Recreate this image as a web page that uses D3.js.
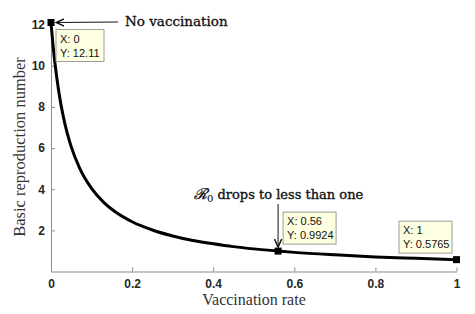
<!DOCTYPE html>
<html>
<head>
<meta charset="utf-8">
<script src="https://cdn.jsdelivr.net/npm/d3@7"></script>
<style>
  body { margin: 0; background: #fff; }
  svg { display: block; }
</style>
</head>
<body>
<div class="chart"></div>
<script>
// curve
const rate = [0, 0.005, 0.01, 0.02, 0.03, 0.04, 0.05, 0.07, 0.1, 0.13, 0.16, 0.2, 0.25, 0.3, 0.35, 0.4, 0.45, 0.5, 0.56, 0.6, 0.7, 0.8, 0.9, 1];
const r0 = [12.11, 11.0, 10.09, 8.65, 7.57, 6.73, 6.06, 5.05, 4.04, 3.36, 2.88, 2.42, 2.02, 1.73, 1.51, 1.35, 1.21, 1.10, 0.9924, 0.93, 0.81, 0.71, 0.64, 0.5765];

// data tips
const tipX = [0, 0.56, 1];
const tipY = [12.11, 0.9924, 0.5765];
const tipLabelX = ['0', '0.56', '1'];
const tipLabelY = ['12.11', '0.9924', '0.5765'];

const xTicks = [0, 0.2, 0.4, 0.6, 0.8, 1];
const yTicks = [2, 4, 6, 8, 10, 12];

let width = 475, height = 314;

let svg = d3.select(".chart")
  .append("svg")
  .attr("width", width)
  .attr("height", height);

svg.append("defs").append("marker")
  .attr("id", "arr")
  .attr("viewBox", "0 0 10 10")
  .attr("refX", 9).attr("refY", 5)
  .attr("markerWidth", 9).attr("markerHeight", 9)
  .attr("markerUnits", "userSpaceOnUse")
  .attr("orient", "auto")
  .append("path")
  .attr("d", "M0,1 L9,5 L0,9")
  .attr("fill", "none")
  .attr("stroke", "#111")
  .attr("stroke-width", 1.6);

const x = d3.scaleLinear().domain([0, 1]).range([51, 456.5]);
const y = d3.scaleLinear().domain([0, 12.11]).range([271.5, 22.5]);

const tickFont = "'Liberation Sans', Arial, sans-serif";
const serif = "'DejaVu Serif', serif";

// axes
let xAxis = svg.append("g")
  .attr("transform", "translate(0," + y(0) + ")")
  .call(d3.axisBottom(x).tickValues(xTicks).tickSizeInner(-4).tickSizeOuter(0).tickPadding(8)
    .tickFormat(d => String(+d.toFixed(1))));
let yAxis = svg.append("g")
  .attr("transform", "translate(" + x(0) + ",0)")
  .call(d3.axisLeft(y).tickValues(yTicks).tickSizeInner(-4).tickSizeOuter(0).tickPadding(6));

[xAxis, yAxis].forEach(a => {
  a.select(".domain").attr("stroke", "#8c8c8c");
  a.selectAll(".tick line").attr("stroke", "#8c8c8c");
  a.selectAll(".tick text")
    .attr("fill", "#262626")
    .style("font-family", tickFont)
    .style("font-weight", "bold")
    .style("font-size", "12px");
});

// axis labels
svg.append("text")
  .attr("x", 254).attr("y", 305)
  .attr("text-anchor", "middle")
  .style("font-family", "'Liberation Serif', serif")
  .style("font-size", "16px")
  .attr("fill", "#333")
  .text("Vaccination rate");

svg.append("text")
  .attr("transform", "translate(25,147) rotate(-90)")
  .attr("text-anchor", "middle")
  .style("font-family", "'Liberation Serif', serif")
  .style("font-size", "16.5px")
  .attr("fill", "#333")
  .text("Basic reproduction number");

// curve
const pts = rate.map((d, i) => [d, r0[i]]);
svg.append("path")
  .datum(pts)
  .attr("fill", "none")
  .attr("stroke", "#000")
  .attr("stroke-width", 3)
  .attr("d", d3.line().x(d => x(d[0])).y(d => y(d[1])).curve(d3.curveMonotoneX));

// markers
svg.selectAll(".mk")
  .data(tipX)
  .join("rect")
  .attr("class", "mk")
  .attr("x", d => x(d) - 3.5)
  .attr("y", (d, i) => y(tipY[i]) - 3.5)
  .attr("width", 7).attr("height", 7)
  .attr("fill", "#000");

// data tip boxes: offset from the marker, box width
const tipDx = [5, 5, -57.5];
const tipDy = [7, -39, -38.5];
const tipW = [48, 53, 53];

let tips = svg.selectAll(".tip")
  .data(tipX)
  .join("g")
  .attr("class", "tip")
  .attr("transform", (d, i) => "translate(" + (x(d) + tipDx[i]) + "," + (y(tipY[i]) + tipDy[i]) + ")");

tips.append("rect")
  .attr("width", (d, i) => tipW[i])
  .attr("height", 32)
  .attr("fill", "#ffffe1")
  .attr("stroke", "#9c9c9c")
  .attr("stroke-width", 1);

tips.append("text")
  .attr("x", 4).attr("y", 13)
  .style("font-family", tickFont)
  .style("font-size", "11px")
  .attr("fill", "#111")
  .text((d, i) => "X: " + tipLabelX[i]);

tips.append("text")
  .attr("x", 4).attr("y", 27)
  .style("font-family", tickFont)
  .style("font-size", "11px")
  .attr("fill", "#111")
  .text((d, i) => "Y: " + tipLabelY[i]);

// annotations
svg.append("line")
  .attr("x1", 118).attr("y1", 22)
  .attr("x2", x(0) + 5).attr("y2", y(12.11))
  .attr("stroke", "#111").attr("stroke-width", 1)
  .attr("marker-end", "url(#arr)");

svg.append("text")
  .attr("x", 125).attr("y", 26)
  .style("font-family", serif)
  .style("font-size", "13.5px")
  .attr("fill", "#111")
  .attr("stroke", "#111").attr("stroke-width", 0.35)
  .text("No vaccination");

svg.append("line")
  .attr("x1", x(0.56)).attr("y1", 204)
  .attr("x2", x(0.56)).attr("y2", y(0.9924) - 4)
  .attr("stroke", "#111").attr("stroke-width", 1)
  .attr("marker-end", "url(#arr)");

let r0txt = svg.append("text")
  .attr("x", 194).attr("y", 199)
  .style("font-family", serif)
  .style("font-size", "13px")
  .attr("fill", "#111")
  .attr("stroke", "#111").attr("stroke-width", 0.35);
r0txt.append("tspan").style("font-style", "italic").style("font-size", "15px").text("ℛ");
r0txt.append("tspan").attr("dy", 3).style("font-size", "10px").attr("stroke-width", 0.15).text("0");
r0txt.append("tspan").attr("dy", -3).text(" drops to less than one");
</script>
</body>
</html>
